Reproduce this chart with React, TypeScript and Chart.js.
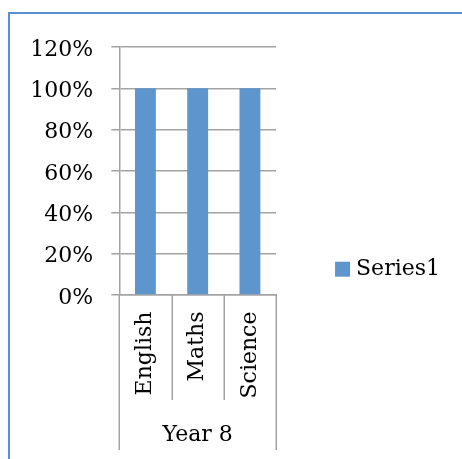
import React, { useEffect, useRef } from "react";
import { Chart, registerables } from "chart.js";

Chart.register(...registerables);

const categories = ["English", "Maths", "Science"];
const groupLabel = "Year 8";
const seriesName = "Series1";
const seriesValues = [1, 1, 1];
const yMax = 1.2;
const yStep = 0.2;

const FONT = "'DejaVu Serif'";
const GRID = "#a3a3a3";
const BAR = "#5f95cd";

const groupLinesPlugin = {
  id: "groupLines",
  afterDraw(chart: any) {
    const x = chart.scales.x;
    const area = chart.chartArea;
    const ctx = chart.ctx;
    const n = categories.length;
    ctx.save();
    ctx.strokeStyle = GRID;
    ctx.lineWidth = 1.5;
    for (let i = 0; i <= n; i++) {
      const px = Math.round(x.getPixelForValue(i - 0.5)) + 0.25;
      const outer = i === 0 || i === n;
      const yEnd = outer ? x.bottom - 9 : area.bottom + 105;
      ctx.beginPath();
      ctx.moveTo(px, area.bottom);
      ctx.lineTo(px, yEnd);
      ctx.stroke();
    }
    ctx.restore();
  },
};

const borderPlugin = {
  id: "frameBorder",
  beforeDraw(chart: any) {
    const ctx = chart.ctx;
    ctx.save();
    ctx.strokeStyle = "#5b8fd4";
    ctx.lineWidth = 2;
    ctx.beginPath();
    ctx.moveTo(9, chart.height);
    ctx.lineTo(9, 13);
    ctx.lineTo(chart.width, 13);
    ctx.stroke();
    ctx.restore();
  },
};

export default function App() {
  const ref = useRef<HTMLCanvasElement>(null);
  useEffect(() => {
    if (!ref.current) return;
    const chart = new Chart(ref.current, {
      type: "bar",
      data: {
        labels: categories,
        datasets: [
          {
            label: seriesName,
            data: seriesValues,
            backgroundColor: BAR,
            borderWidth: 0,
            barPercentage: 0.4,
            categoryPercentage: 1,
          },
        ],
      },
      options: {
        responsive: false,
        animation: false,
        layout: { padding: { top: 47, right: 12, bottom: 0, left: 12 } },
        plugins: {
          tooltip: { enabled: false },
          legend: {
            position: "right",
            maxWidth: 400,
            labels: {
              font: { family: FONT, size: 22 },
              color: "#000",
              usePointStyle: true,
              pointStyle: "rect",
              boxHeight: 15,
              boxWidth: 5,
              padding: 64,
            },
            title: {
              display: true,
              text: " ",
              font: { size: 10 },
              padding: { top: 20.4, bottom: 0 },
            },
          },
        },
        scales: {
          x: {
            grid: { display: false, drawTicks: false, tickLength: 0 },
            border: { display: true, color: GRID, width: 1.5 },
            ticks: {
              font: { family: FONT, size: 22 },
              color: "#000",
              minRotation: 90,
              maxRotation: 90,
              padding: 16.5,
            },
            title: {
              display: true,
              text: groupLabel,
              font: { family: FONT, size: 22 },
              color: "#000",
              padding: { top: 6.6, bottom: 11 },
            },
          },
          y: {
            min: 0,
            max: yMax,
            grid: { color: GRID, lineWidth: 1.5, tickLength: 8 },
            border: { display: true, color: GRID, width: 1.5 },
            ticks: {
              stepSize: yStep,
              font: { family: FONT, size: 22 },
              color: "#000",
              padding: 18.2,
              labelOffset: 3,
              callback: (v: any) => Math.round(Number(v) * 100) + "%",
            },
          },
        },
      },
      plugins: [groupLinesPlugin, borderPlugin],
    });
    return () => chart.destroy();
  }, []);
  return (
    <div style={{ position: "fixed", left: 0, top: 0, width: 462, height: 459, background: "#fff" }}>
      <canvas ref={ref} width={462} height={459} style={{ display: "block" }} />
    </div>
  );
}
